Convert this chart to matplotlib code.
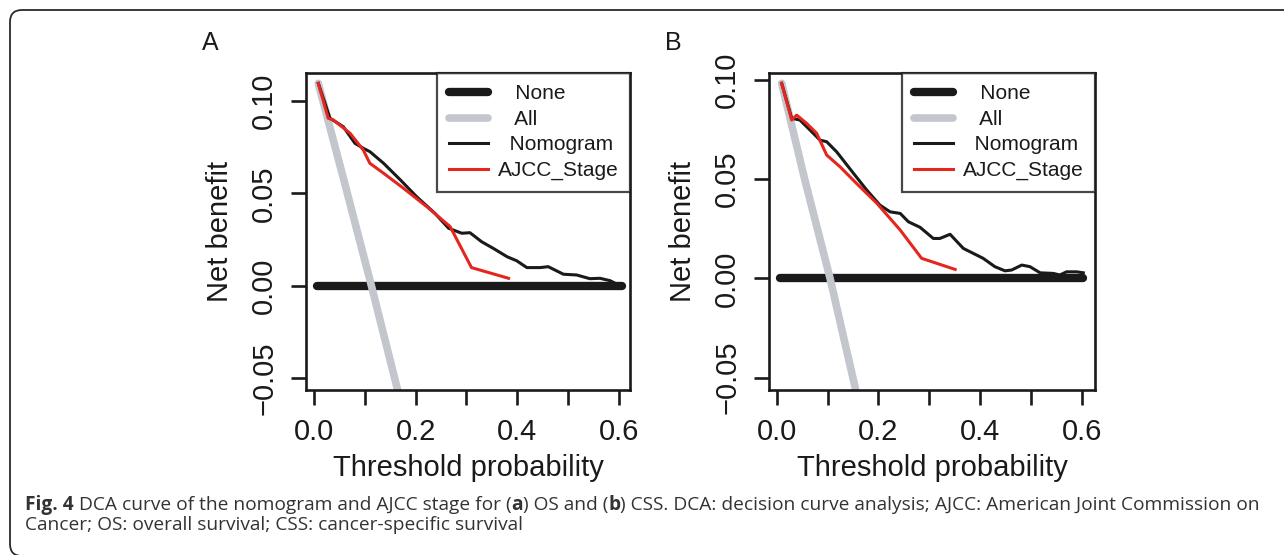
import matplotlib
matplotlib.use("Agg")
import matplotlib.pyplot as plt
from matplotlib.lines import Line2D
from matplotlib.patches import FancyBboxPatch

# ---- data ----
# Panel A: overall survival
os_x_nomo = [0.0085, 0.0315, 0.0577, 0.0807, 0.0971, 0.110, 0.137, 0.170, 0.202, 0.238,
             0.265, 0.291, 0.307, 0.330, 0.353, 0.380, 0.399, 0.419, 0.445, 0.461,
             0.491, 0.517, 0.543, 0.563, 0.583, 0.602]
os_y_nomo = [0.1096, 0.0907, 0.0861, 0.0771, 0.0744, 0.0726, 0.0663, 0.0573, 0.0482, 0.0392,
             0.0311, 0.0284, 0.0287, 0.0238, 0.0202, 0.0157, 0.0135, 0.0098, 0.0098, 0.0103,
             0.0062, 0.0058, 0.0038, 0.0040, 0.0027, 0.0]
os_x_ajcc = [0.0085, 0.028, 0.038, 0.0709, 0.097, 0.110, 0.137, 0.176, 0.222, 0.268, 0.310, 0.383]
os_y_ajcc = [0.1096, 0.0907, 0.0898, 0.0826, 0.0735, 0.0663, 0.0609, 0.0528, 0.0428, 0.0320, 0.0098, 0.0040]
os_x_all = [0.0085, 0.06, 0.113, 0.163, 0.18]
os_y_all = [0.1096, 0.0560, 0.0, -0.0547, -0.074]
os_x_none = [0.005, 0.606]

# Panel B: cancer-specific survival
css_x_nomo = [0.0098, 0.0295, 0.0458, 0.0655, 0.0852, 0.0983, 0.118, 0.151, 0.177, 0.203,
              0.223, 0.243, 0.259, 0.282, 0.308, 0.321, 0.341, 0.367, 0.406, 0.429,
              0.449, 0.462, 0.482, 0.498, 0.518, 0.544, 0.557, 0.570, 0.590, 0.603]
css_y_nomo = [0.0982, 0.0806, 0.0797, 0.0747, 0.0696, 0.0688, 0.0637, 0.0529, 0.0445, 0.0369,
              0.0335, 0.0327, 0.0285, 0.0257, 0.0201, 0.0201, 0.0222, 0.0151, 0.0101, 0.0059,
              0.0038, 0.0042, 0.0067, 0.0059, 0.0028, 0.0025, 0.0017, 0.0033, 0.0033, 0.0028]
css_x_ajcc = [0.0098, 0.0295, 0.0393, 0.059, 0.0787, 0.0983, 0.1245, 0.157, 0.197, 0.243, 0.285, 0.351]
css_y_ajcc = [0.0982, 0.0797, 0.0822, 0.0780, 0.0730, 0.0621, 0.0562, 0.0478, 0.0378, 0.0243, 0.0101, 0.0045]
css_x_all = [0.0098, 0.055, 0.105, 0.154, 0.17]
css_y_all = [0.0982, 0.0500, 0.0, -0.0546, -0.074]
css_x_none = [0.0065, 0.603]

x_ticks = [0.0, 0.1, 0.2, 0.3, 0.4, 0.5, 0.6]
x_labels = ["0.0", "", "0.2", "", "0.4", "", "0.6"]
y_ticks = [-0.05, 0.0, 0.05, 0.10]
y_labels = ["\u22120.05", "0.00", "0.05", "0.10"]
legend_labels = ["   None", "   All", "  Nomogram", "AJCC_Stage"]

caption_pieces = [
    ("Fig. 4", "bold"),
    (" DCA curve of the nomogram and AJCC stage for (", "normal"),
    ("a", "bold"),
    (") OS and (", "normal"),
    ("b", "bold"),
    (") CSS. DCA: decision curve analysis; AJCC: American Joint Commission on", "normal"),
]
caption_line2 = "Cancer; OS: overall survival; CSS: cancer-specific survival"

# ---- styling ----
W, H = 1284, 555
INK = "#1a1a1a"
GRAY = "#c3c6cc"
RED = "#e5261f"
plt.rcParams["font.family"] = ["Liberation Sans", "DejaVu Sans"]

fig = plt.figure(figsize=(W / 100, H / 100), dpi=100)


def px_axes(left, right, top, bottom):
    return [left / W, 1 - bottom / H, (right - left) / W, (bottom - top) / H]


def draw_panel(rect, xlim, ylim, xn, yn, xa, ya, xall, yall, xnone):
    ax = fig.add_axes(rect)
    ax.plot(xnone, [0, 0], color=INK, lw=6, solid_capstyle="round")
    ax.plot(xall, yall, color=GRAY, lw=5.5, solid_capstyle="round")
    ax.plot(xn, yn, color=INK, lw=2.2)
    ax.plot(xa, ya, color=RED, lw=2.2)
    ax.set_xlim(xlim)
    ax.set_ylim(ylim)
    ax.set_xticks(x_ticks)
    ax.set_xticklabels(x_labels)
    ax.set_yticks(y_ticks)
    ax.set_yticklabels(y_labels, rotation=90, va="center")
    ax.tick_params(length=11, width=1.9, color=INK, labelsize=21, labelcolor=INK, pad=9)
    for s in ax.spines.values():
        s.set_linewidth(1.9)
        s.set_color(INK)
    ax.set_xlabel("Threshold probability", fontsize=21, color=INK, labelpad=6)
    ax.set_ylabel("Net benefit", fontsize=21, color=INK, labelpad=12)
    handles = [
        Line2D([], [], color=INK, lw=6, solid_capstyle="round"),
        Line2D([], [], color=GRAY, lw=5.5, solid_capstyle="round"),
        Line2D([], [], color=INK, lw=2.2),
        Line2D([], [], color=RED, lw=2.2),
    ]
    leg = ax.legend(handles, legend_labels, loc="upper right", fontsize=15,
                    frameon=True, fancybox=False, borderaxespad=0, borderpad=0.55,
                    labelspacing=0.31, handlelength=1.9, handletextpad=0.45)
    leg.get_frame().set_edgecolor(INK)
    leg.get_frame().set_linewidth(1.6)
    for t in leg.get_texts():
        t.set_color(INK)
    return ax


draw_panel(px_axes(306, 630, 73, 390), (-0.0157, 0.622), (-0.0565, 0.1152),
           os_x_nomo, os_y_nomo, os_x_ajcc, os_y_ajcc, os_x_all, os_y_all, os_x_none)
draw_panel(px_axes(769, 1095, 73, 390), (-0.0151, 0.626), (-0.0562, 0.1034),
           css_x_nomo, css_y_nomo, css_x_ajcc, css_y_ajcc, css_x_all, css_y_all, css_x_none)

fig.text(210 / W, 1 - 43 / H, "A", fontsize=18, color=INK, ha="center", va="center")
fig.text(673 / W, 1 - 43 / H, "B", fontsize=18, color=INK, ha="center", va="center")

# outer frame with rounded corner (only top and left edges fall inside the image)
frame = FancyBboxPatch((10, H - 556), 1400, 546, boxstyle="round,pad=0,rounding_size=12",
                       transform=None, fill=False, edgecolor="#2a2a2a", lw=1.3)
fig.add_artist(frame)

# caption: chain of text pieces, fitted to the line width
CAP = "#333333"
cap_font = ["Open Sans", "DejaVu Sans"]
renderer = fig.canvas.get_renderer()


def draw_caption(size):
    items = []
    for txt, wt in caption_pieces:
        t = fig.text(0, 0, txt, fontsize=size, fontweight=wt, family=cap_font, color=CAP,
                     ha="left", va="baseline")
        items.append(t)
    x = 25
    for t in items:
        t.set_position((x / W, 1 - 510 / H))
        x = t.get_window_extent(renderer).x1
    return items, x


size = 12.0
items, end = draw_caption(size)
for t in items:
    t.remove()
size = size * (1252 - 25) / (end - 25)
items, end = draw_caption(size)
fig.text(25 / W, 1 - 530 / H, caption_line2, fontsize=size, family=cap_font, color=CAP,
         ha="left", va="baseline")

fig.savefig("out.png", dpi=100, facecolor="white")
